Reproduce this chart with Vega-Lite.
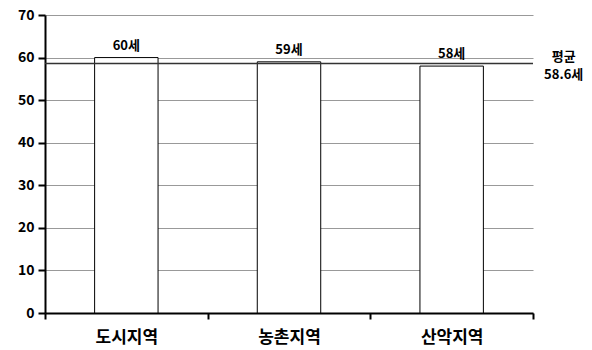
{
  "$schema": "https://vega.github.io/schema/vega-lite/v6.json",
  "autosize": "none",
  "width": 488,
  "height": 298,
  "padding": {"left": 45, "top": 15, "right": 59, "bottom": 37},
  "background": "white",
  "config": {"view": {"stroke": null}, "font": "Noto Sans CJK KR"},
  "datasets": {
    "regions": [
      {"region": "도시지역", "age": 60, "label": "60세"},
      {"region": "농촌지역", "age": 59, "label": "59세"},
      {"region": "산악지역", "age": 58, "label": "58세"}
    ],
    "mean": [
      {"region": "산악지역", "mean": 58.6, "label": ["평균", "58.6세"]}
    ]
  },
  "layer": [
    {
      "data": {"name": "regions"},
      "mark": {"type": "bar", "fill": "white", "stroke": "black", "strokeWidth": 1, "width": {"band": 0.39}},
      "encoding": {
        "x": {
          "field": "region", "type": "nominal", "sort": null,
          "scale": {"paddingInner": 0, "paddingOuter": 0},
          "axis": {
            "title": null, "labelAngle": 0, "tickBand": "extent",
            "domainColor": "black", "domainWidth": 2, "tickColor": "black", "tickWidth": 2, "tickSize": 6,
            "labelFont": "Noto Sans CJK KR", "labelFontWeight": "bold", "labelFontSize": 17, "labelColor": "black",
            "labelPadding": 10, "grid": false
          }
        },
        "y": {
          "field": "age", "type": "quantitative",
          "scale": {"domain": [0, 70], "nice": false},
          "axis": {
            "title": null, "values": [0, 10, 20, 30, 40, 50, 60, 70],
            "domainColor": "black", "domainWidth": 2, "tickColor": "black", "tickWidth": 2, "tickSize": 7,
            "labelFont": "Noto Sans CJK KR", "labelFontWeight": "bold", "labelFontSize": 14, "labelColor": "black",
            "labelPadding": 4,
            "grid": true, "gridColor": "#999999", "gridWidth": 1
          }
        }
      }
    },
    {
      "data": {"name": "regions"},
      "mark": {"type": "text", "baseline": "bottom", "dy": -5, "fontSize": 13, "fontWeight": "bold", "color": "black", "font": "Noto Sans CJK KR"},
      "encoding": {
        "x": {"field": "region", "type": "nominal", "sort": null},
        "y": {"field": "age", "type": "quantitative"},
        "text": {"field": "label"}
      }
    },
    {
      "data": {"name": "mean"},
      "mark": {"type": "rule", "color": "#333333", "strokeWidth": 1.5},
      "encoding": {
        "y": {"field": "mean", "type": "quantitative"}
      }
    },
    {
      "data": {"name": "mean"},
      "mark": {"type": "text", "baseline": "middle", "align": "center", "dx": 112, "dy": -7, "lineHeight": 18, "fontSize": 13, "fontWeight": "bold", "color": "black", "font": "Noto Sans CJK KR"},
      "encoding": {
        "x": {"field": "region", "type": "nominal", "sort": null},
        "y": {"field": "mean", "type": "quantitative"},
        "text": {"field": "label"}
      }
    }
  ]
}
